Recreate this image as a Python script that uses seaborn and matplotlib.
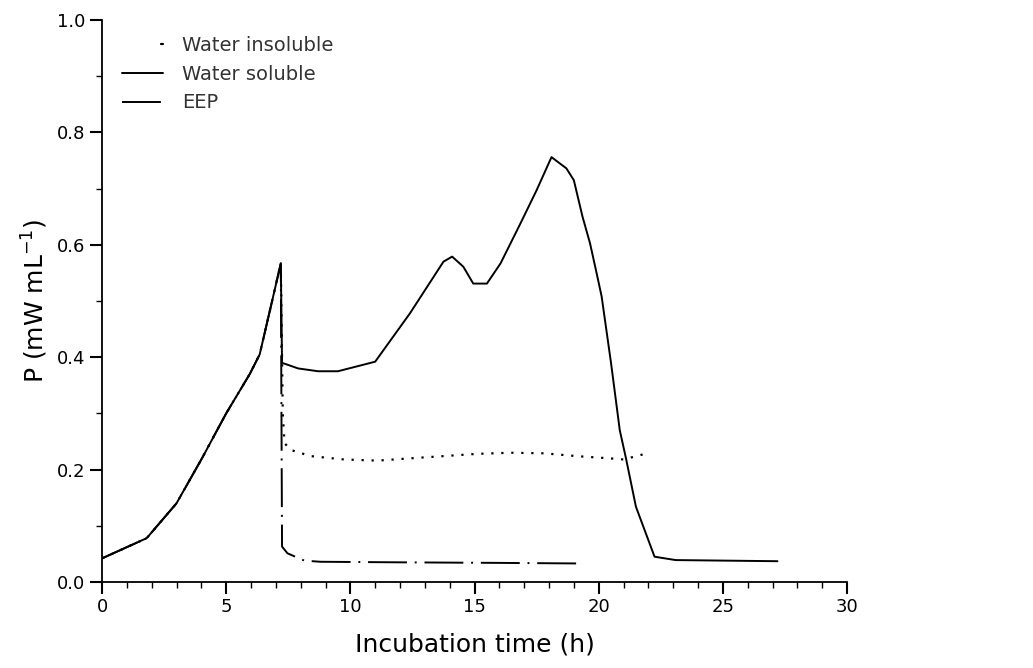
import numpy as np
import pandas as pd
import matplotlib
matplotlib.use("Agg")
import matplotlib.pyplot as plt
import seaborn as sns
from matplotlib.ticker import MultipleLocator

# ---- data ----
rise_t = [0.0, 1.8, 3.0, 4.05, 5.0, 5.95, 6.35, 6.85, 7.2]
rise_p = [0.042, 0.078, 0.14, 0.222, 0.30, 0.37, 0.405, 0.50, 0.567]

soluble_t = rise_t + [7.25, 7.9, 8.7, 9.5, 11.0, 12.4, 13.75, 14.1, 14.55, 14.95, 15.5,
                      16.05, 16.85, 17.5, 18.1, 18.7, 19.0, 19.35, 19.65, 19.92, 20.12,
                      20.5, 20.85, 21.1, 21.5, 22.25, 23.1, 27.2]
soluble_p = rise_p + [0.39, 0.38, 0.375, 0.375, 0.392, 0.478, 0.57, 0.579, 0.561, 0.531, 0.531,
                      0.567, 0.638, 0.697, 0.756, 0.736, 0.715, 0.65, 0.603, 0.549, 0.508,
                      0.389, 0.27, 0.22, 0.134, 0.045, 0.039, 0.037]

insoluble_t = rise_t + [7.28, 7.35, 7.6, 8.4, 9.75, 11.1, 12.4, 13.75, 15.1, 16.45, 17.8,
                        19.1, 20.45, 21.0, 21.95]
insoluble_p = rise_p + [0.30, 0.247, 0.235, 0.224, 0.218, 0.216, 0.22, 0.224, 0.228, 0.23, 0.229,
                        0.224, 0.22, 0.218, 0.229]

eep_t = rise_t + [7.25, 7.47, 8.15, 8.8, 12.0, 16.0, 19.15]
eep_p = rise_p + [0.063, 0.051, 0.038, 0.036, 0.035, 0.034, 0.033]

series_names = ["Water insoluble", "Water soluble", "EEP"]
x_ticks = [0, 5, 10, 15, 20, 25, 30]
y_ticks = [0.0, 0.2, 0.4, 0.6, 0.8, 1.0]

sns.set_theme(style="ticks")
plt.rcParams["font.family"] = ["DejaVu Sans"]
plt.rcParams["mathtext.fontset"] = "dejavusans"

fig = plt.figure(figsize=(10.33, 6.68), dpi=100)
ax = fig.add_axes([102 / 1033, 86 / 668, 745 / 1033, 562 / 668])

df_ins = pd.DataFrame({"t": insoluble_t, "p": insoluble_p})
df_sol = pd.DataFrame({"t": soluble_t, "p": soluble_p})
df_eep = pd.DataFrame({"t": eep_t, "p": eep_p})

sns.lineplot(data=df_ins, x="t", y="p", sort=False, color="black", lw=1.6,
             linestyle=(0, (1, 3.5)), label=series_names[0], ax=ax)
sns.lineplot(data=df_sol, x="t", y="p", sort=False, color="black", lw=1.4,
             linestyle="-", label=series_names[1], ax=ax)
sns.lineplot(data=df_eep, x="t", y="p", sort=False, color="black", lw=1.4,
             linestyle=(0, (20, 4, 1, 4)), label=series_names[2], ax=ax)

ax.set_xlim(0, 30)
ax.set_ylim(0, 1.0)
ax.set_xticks(x_ticks)
ax.set_xticklabels([str(v) for v in x_ticks])
ax.set_yticks(y_ticks)
ax.set_yticklabels([f"{v:.1f}" for v in y_ticks])
ax.xaxis.set_minor_locator(MultipleLocator(1))
ax.yaxis.set_minor_locator(MultipleLocator(0.1))
ax.tick_params(axis="both", which="major", direction="out", length=8.5, width=1.5,
               labelsize=13, color="black", labelcolor="black")
ax.tick_params(axis="both", which="minor", direction="out", length=4.5, width=1.0, color="black")
ax.tick_params(axis="x", pad=3)

for s in ["top", "right"]:
    ax.spines[s].set_visible(False)
for s in ["left", "bottom"]:
    ax.spines[s].set_color("black")
    ax.spines[s].set_linewidth(1.3)

ax.set_xlabel("Incubation time (h)", fontsize=18, labelpad=12, color="black")
ax.set_ylabel("P (mW mL$^{-1}$)", fontsize=18, labelpad=5, color="black")

leg = ax.legend(loc="upper left", bbox_to_anchor=(122 / 1033, 1 - 36 / 668),
                bbox_transform=fig.transFigure, frameon=False, fontsize=14,
                handlelength=2.1, handletextpad=1.0, labelspacing=0.5,
                borderpad=0, borderaxespad=0)
lines = leg.get_lines()
xd = np.asarray(lines[0].get_xdata(), dtype=float)
yd = np.asarray(lines[0].get_ydata(), dtype=float)
lines[0].set_data([xd[-1] - 1.2, xd[-1]], [yd[-1], yd[-1]])
lines[0].set_linestyle("-")
for t in leg.get_texts():
    t.set_color("#333333")

fig.savefig("out.png", dpi=100, facecolor="white")
